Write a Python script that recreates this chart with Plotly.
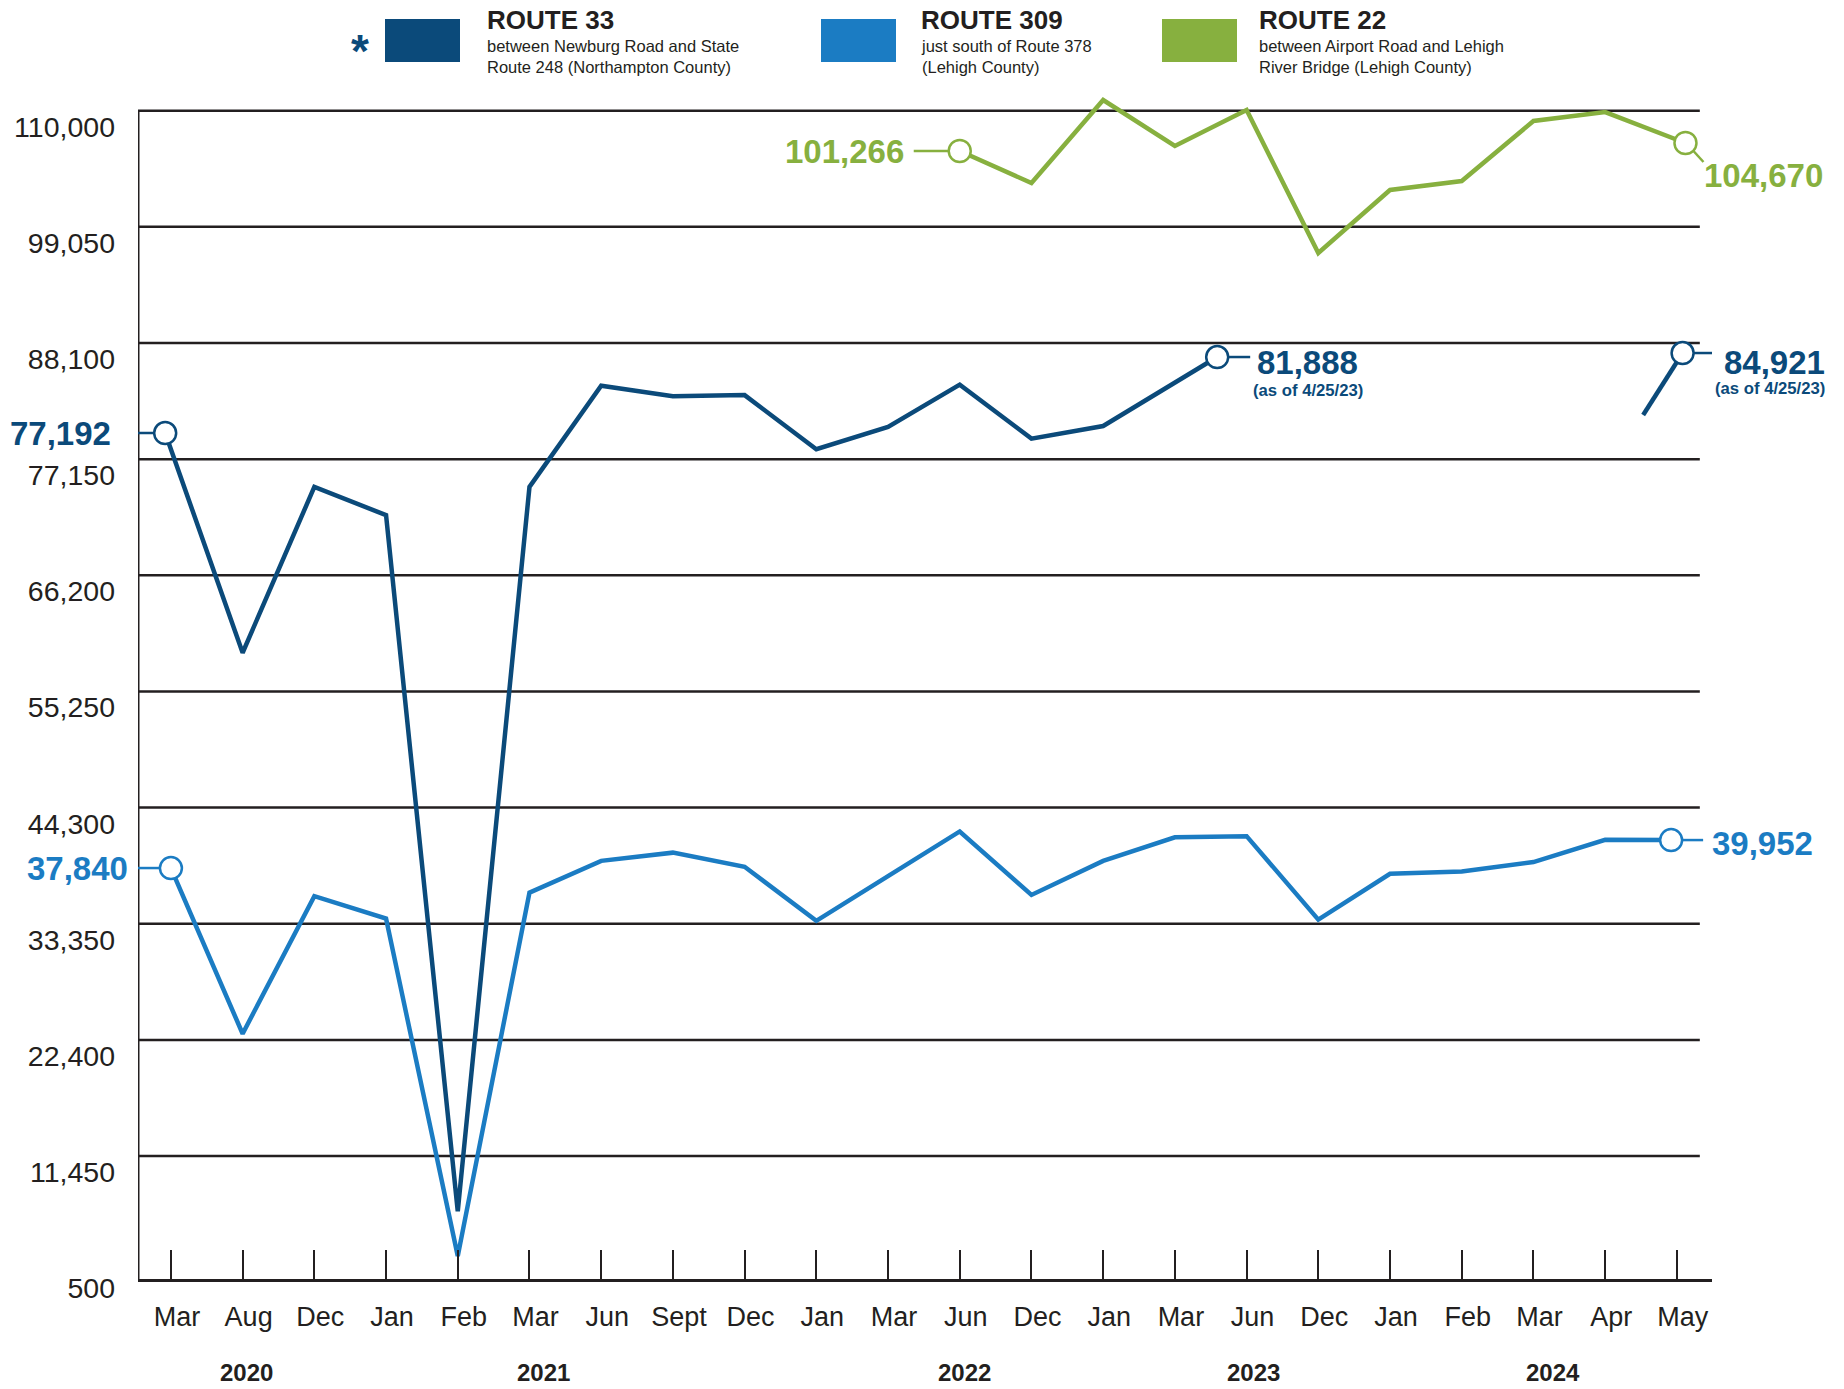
import plotly.graph_objects as go

# ---------------- data ----------------
cat_labels = ["Mar", "Aug", "Dec", "Jan", "Feb", "Mar", "Jun", "Sept", "Dec", "Jan", "Mar",
              "Jun", "Dec", "Jan", "Mar", "Jun", "Dec", "Jan", "Feb", "Mar", "Apr", "May"]
year_labels = ["2020", "2021", "2022", "2023", "2024"]
y_ticks = [500, 11450, 22400, 33350, 44300, 55250, 66200, 77150, 88100, 99050, 110000]

r33_x = [-0.08, 1, 2, 3, 4, 5, 6, 7, 8, 9, 10, 11, 12, 13, 14.59, None, 20.53, 21.08]
r33_y = [79613, 58900, 74532, 71873, 6235, 74532, 84073, 83074, 83187, 78086, 80189,
         84177, 79086, 80274, 86778, None, 81310, 87155]

r309_x = [0, 1, 2, 3, 4, 5, 6, 7, 8, 9, 10, 11, 12, 13, 14, 15, 16, 17, 18, 19, 20, 20.92]
r309_y = [38602, 22980, 35952, 33841, 2021, 36282, 39280, 40054, 38724, 33624, 37838,
          42052, 36066, 39280, 41496, 41609, 33737, 38055, 38281, 39167, 41270, 41240]

r22_x = [11, 12, 13, 14, 15, 16, 17, 18, 19, 20, 21.12]
r22_y = [106200, 103183, 111009, 106672, 110066, 96583, 102523, 103372, 109029, 109870, 106955]

r33_labels = ["77,192", "81,888", "84,921"]
r309_labels = ["37,840", "39,952"]
r22_labels = ["101,266", "104,670"]
asof_note = "(as of 4/25/23)"

legend_titles = ["ROUTE 33", "ROUTE 309", "ROUTE 22"]
legend_subs = ["between Newburg Road and State<br>Route 248 (Northampton County)",
               "just south of Route 378<br>(Lehigh County)",
               "between Airport Road and Lehigh<br>River Bridge (Lehigh County)"]

# ---------------- style / layout ----------------
C33 = "#0b4a7a"
C309 = "#1b7cc3"
C22 = "#87b03f"
DARK = "#231f20"
FONT = "Liberation Sans, Arial, Helvetica, sans-serif"

W, H = 1844, 1389
ML, MR, MT, MB = 138, 132, 90, 110
XR = [-0.459, 21.49]
YR = [-141, 111952]
year_pos = [1.05, 5.19, 11.06, 15.1, 19.27]


def px(xp):
    return (xp - ML) / (W - ML - MR)


def py(yp):
    return (H - MB - yp) / (H - MT - MB)


fig = go.Figure()

lw = 4.5
fig.add_trace(go.Scatter(x=r33_x, y=r33_y, mode="lines", line=dict(color=C33, width=lw),
                         connectgaps=False, hoverinfo="skip"))
fig.add_trace(go.Scatter(x=r309_x, y=r309_y, mode="lines", line=dict(color=C309, width=lw),
                         hoverinfo="skip"))
fig.add_trace(go.Scatter(x=r22_x, y=r22_y, mode="lines", line=dict(color=C22, width=lw),
                         hoverinfo="skip"))

# end-point circles
pts33 = [(r33_x[0], r33_y[0]), (r33_x[14], r33_y[14]), (r33_x[-1], r33_y[-1])]
pts309 = [(r309_x[0], r309_y[0]), (r309_x[-1], r309_y[-1])]
pts22 = [(r22_x[0], r22_y[0]), (r22_x[-1], r22_y[-1])]
for pts, col in [(pts33, C33), (pts309, C309), (pts22, C22)]:
    fig.add_trace(go.Scatter(x=[p[0] for p in pts], y=[p[1] for p in pts], mode="markers",
                             marker=dict(symbol="circle", size=22, color="white",
                                         line=dict(color=col, width=2.5)),
                             hoverinfo="skip", cliponaxis=False))

shapes = []
# gridlines
for v in y_ticks[1:]:
    shapes.append(dict(type="line", xref="x", yref="y", x0=XR[0], x1=21.32, y0=v, y1=v,
                       line=dict(color=DARK, width=2.5), layer="below"))
# y axis line
shapes.append(dict(type="line", xref="x", yref="y", x0=XR[0], x1=XR[0], y0=YR[0], y1=y_ticks[-1],
                   line=dict(color=DARK, width=3), layer="below"))


def leader(pt, dx0, dy0, dx1, dy1, col):
    shapes.append(dict(type="line", xref="x", yref="y", xsizemode="pixel", ysizemode="pixel",
                       xanchor=pt[0], yanchor=pt[1], x0=dx0, x1=dx1, y0=dy0, y1=dy1,
                       line=dict(color=col, width=2.5)))


leader(pts33[0], -11, 0, -50, 0, C33)
leader(pts33[1], 11, 0, 33, 0, C33)
leader(pts33[2], 11, 0, 32, 0, C33)
leader(pts309[0], -11, 0, -33, 0, C309)
leader(pts309[1], 11, 0, 32, 0, C309)
leader(pts22[0], -11, 0, -46, 0, C22)
leader(pts22[1], 8, -8, 18, -19, C22)

ann = []


def label(pt, text, col, xs, ys, anchor, size=33, bold=True):
    t = f"<b>{text}</b>" if bold else text
    ann.append(dict(x=pt[0], y=pt[1], xref="x", yref="y", text=t, showarrow=False,
                    xanchor=anchor, yanchor="middle", xshift=xs, yshift=ys,
                    font=dict(family=FONT, size=size, color=col)))


label(pts33[0], r33_labels[0], C33, -52, 0, "right")
label(pts33[1], r33_labels[1], C33, 38, -5, "left")
label(pts33[1], asof_note, C33, 34, -33, "left", size=16.7)
label(pts33[2], r33_labels[2], C33, 39, -9, "left")
label(pts33[2], asof_note, C33, 30, -35, "left", size=16.7)
label(pts309[0], r309_labels[0], C309, -41, 0, "right")
label(pts309[1], r309_labels[1], C309, 39, -3, "left")
label(pts22[0], r22_labels[0], C22, -54, 0, "right")
label(pts22[1], r22_labels[1], C22, 17, -32, "left")

# year labels
for yl, xp in zip(year_labels, year_pos):
    ann.append(dict(x=xp, y=py(1372), xref="x", yref="paper", text=f"<b>{yl}</b>",
                    showarrow=False, xanchor="center", yanchor="middle",
                    font=dict(family=FONT, size=24, color=DARK)))

# legend
leg_sq = [385, 821, 1162]
leg_txt = [487, 921, 1259]
leg_cols = [C33, C309, C22]
for sq, tx, col, ttl, sub in zip(leg_sq, leg_txt, leg_cols, legend_titles, legend_subs):
    shapes.append(dict(type="rect", xref="paper", yref="paper", x0=px(sq), x1=px(sq + 75),
                       y0=py(62), y1=py(19), fillcolor=col, line=dict(width=0)))
    ann.append(dict(x=px(tx - 2), y=py(20), xref="paper", yref="paper", text=f"<b>{ttl}</b>",
                    showarrow=False, xanchor="left", yanchor="middle",
                    font=dict(family=FONT, size=26, color=DARK)))
    ann.append(dict(x=px(tx - 2), y=py(56), xref="paper", yref="paper", text=sub,
                    showarrow=False, xanchor="left", yanchor="middle", align="left",
                    font=dict(family=FONT, size=16.5, color=DARK)))
ann.append(dict(x=px(360), y=py(51), xref="paper", yref="paper", text="<b>*</b>",
                showarrow=False, xanchor="center", yanchor="middle",
                font=dict(family=FONT, size=46, color=C33)))

fig.update_layout(
    width=W, height=H,
    margin=dict(l=ML, r=MR, t=MT, b=MB),
    plot_bgcolor="white", paper_bgcolor="white",
    showlegend=False,
    font=dict(family=FONT, color=DARK),
    xaxis=dict(range=XR, tickvals=list(range(len(cat_labels))), ticktext=cat_labels,
               ticks="inside", ticklen=29, tickwidth=2, tickcolor=DARK,
               showline=True, linewidth=3, linecolor=DARK, showgrid=False, zeroline=False,
               tickfont=dict(family=FONT, size=27, color=DARK), ticklabelstandoff=12,
               ticklabelshift=6),
    yaxis=dict(range=YR, tickvals=y_ticks, ticktext=[f"{v:,}" for v in y_ticks],
               showgrid=False, zeroline=False, showline=False, ticks="",
               tickfont=dict(family=FONT, size=28.5, color=DARK),
               ticklabelshift=16, ticklabelstandoff=22),
    shapes=shapes,
    annotations=ann,
)

fig.write_html("out.html", post_script="document.body.style.margin='0';",
               config={"displayModeBar": False})
